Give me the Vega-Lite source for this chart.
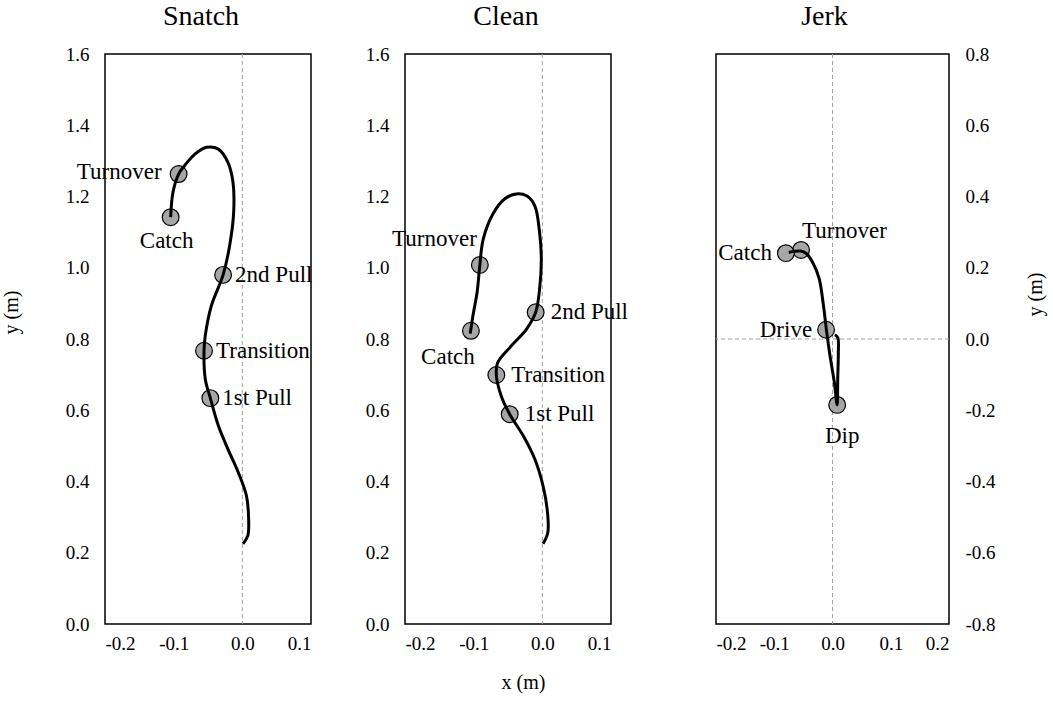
{
  "$schema": "https://vega.github.io/schema/vega-lite/v6.json",
  "background": "white",
  "padding": {"left": 0, "right": 5, "top": 2, "bottom": 5},
  "datasets": {
    "snatch_path": [
      {"i": 1, "x": 0.001, "y": 0.225}, {"i": 2, "x": 0.008, "y": 0.248}, {"i": 3, "x": 0.009, "y": 0.304},
      {"i": 4, "x": 0.006, "y": 0.36}, {"i": 5, "x": -0.006, "y": 0.426}, {"i": 6, "x": -0.021, "y": 0.491},
      {"i": 7, "x": -0.035, "y": 0.557}, {"i": 8, "x": -0.0466, "y": 0.634}, {"i": 9, "x": -0.054, "y": 0.688},
      {"i": 10, "x": -0.0558, "y": 0.767}, {"i": 11, "x": -0.054, "y": 0.809}, {"i": 12, "x": -0.045, "y": 0.894},
      {"i": 13, "x": -0.028, "y": 0.98}, {"i": 14, "x": -0.0185, "y": 1.062}, {"i": 15, "x": -0.0126, "y": 1.156},
      {"i": 16, "x": -0.0136, "y": 1.24}, {"i": 17, "x": -0.021, "y": 1.296}, {"i": 18, "x": -0.035, "y": 1.333},
      {"i": 19, "x": -0.052, "y": 1.338}, {"i": 20, "x": -0.069, "y": 1.319}, {"i": 21, "x": -0.084, "y": 1.287},
      {"i": 22, "x": -0.0928, "y": 1.263}, {"i": 23, "x": -0.101, "y": 1.212}, {"i": 24, "x": -0.1044, "y": 1.142}
    ],
    "snatch_events": [
      {"label": "1st Pull", "x": -0.0466, "y": 0.634},
      {"label": "Transition", "x": -0.0558, "y": 0.767},
      {"label": "2nd Pull", "x": -0.028, "y": 0.98},
      {"label": "Turnover", "x": -0.0928, "y": 1.263},
      {"label": "Catch", "x": -0.1044, "y": 1.142}
    ],
    "clean_path": [
      {"i": 1, "x": 0.001, "y": 0.225}, {"i": 2, "x": 0.008, "y": 0.257}, {"i": 3, "x": 0.007, "y": 0.323},
      {"i": 4, "x": 0.001, "y": 0.388}, {"i": 5, "x": -0.011, "y": 0.463}, {"i": 6, "x": -0.028, "y": 0.529},
      {"i": 7, "x": -0.0475, "y": 0.589}, {"i": 8, "x": -0.06, "y": 0.641}, {"i": 9, "x": -0.067, "y": 0.699},
      {"i": 10, "x": -0.065, "y": 0.734}, {"i": 11, "x": -0.045, "y": 0.781}, {"i": 12, "x": -0.023, "y": 0.828},
      {"i": 13, "x": -0.0097, "y": 0.875}, {"i": 14, "x": -0.004, "y": 0.94}, {"i": 15, "x": -0.0015, "y": 1.025},
      {"i": 16, "x": -0.004, "y": 1.099}, {"i": 17, "x": -0.011, "y": 1.174}, {"i": 18, "x": -0.023, "y": 1.202},
      {"i": 19, "x": -0.038, "y": 1.207}, {"i": 20, "x": -0.055, "y": 1.193}, {"i": 21, "x": -0.072, "y": 1.151},
      {"i": 22, "x": -0.086, "y": 1.081}, {"i": 23, "x": -0.091, "y": 1.008}, {"i": 24, "x": -0.095, "y": 0.931},
      {"i": 25, "x": -0.101, "y": 0.866}, {"i": 26, "x": -0.105, "y": 0.815}
    ],
    "clean_events": [
      {"label": "1st Pull", "x": -0.0475, "y": 0.589},
      {"label": "Transition", "x": -0.067, "y": 0.699},
      {"label": "2nd Pull", "x": -0.0097, "y": 0.875},
      {"label": "Turnover", "x": -0.091, "y": 1.008},
      {"label": "Catch", "x": -0.104, "y": 0.823}
    ],
    "jerk_path": [
      {"i": 1, "x": 0.004, "y": 0.012}, {"i": 2, "x": 0.009, "y": 0.004}, {"i": 3, "x": 0.01, "y": -0.04},
      {"i": 4, "x": 0.009, "y": -0.11}, {"i": 5, "x": 0.008, "y": -0.185}, {"i": 6, "x": 0.003, "y": -0.12},
      {"i": 7, "x": -0.004, "y": -0.05}, {"i": 8, "x": -0.01, "y": 0.02}, {"i": 9, "x": -0.016, "y": 0.1},
      {"i": 10, "x": -0.023, "y": 0.17}, {"i": 11, "x": -0.034, "y": 0.215}, {"i": 12, "x": -0.045, "y": 0.24},
      {"i": 13, "x": -0.055, "y": 0.247}, {"i": 14, "x": -0.065, "y": 0.246}, {"i": 15, "x": -0.075, "y": 0.243}
    ],
    "jerk_events": [
      {"label": "Dip", "x": 0.008, "y": -0.185},
      {"label": "Drive", "x": -0.011, "y": 0.026},
      {"label": "Turnover", "x": -0.054, "y": 0.25},
      {"label": "Catch", "x": -0.08, "y": 0.241}
    ]
  },
  "bounds": "flush",
  "spacing": 611,
  "hconcat": [
    {
      "bounds": "flush",
      "spacing": 94,
      "hconcat": [
        {
          "width": 206,
          "height": 570,
          "title": {"text": "Snatch", "dx": -7},
          "layer": [
            {
              "data": {"values": [{}]},
              "mark": {"type": "rule", "strokeDash": [4, 3], "color": "#a0a0a0", "strokeWidth": 1},
              "encoding": {"x": {"datum": 0, "type": "quantitative"}}
            },
            {
              "data": {"name": "snatch_events"},
              "mark": {"type": "circle", "fill": "#a6a6a6", "fillOpacity": 1, "stroke": "black", "strokeWidth": 1.2, "size": 280},
              "encoding": {
                "x": {"field": "x", "type": "quantitative",
                  "scale": {"domain": [-0.2, 0.1], "nice": false, "zero": false},
                  "axis": {"values": [-0.2, -0.1, 0, 0.1], "labelExpr": "datum.value < 0 ? '-' + format(-datum.value, '.1f') : format(datum.value, '.1f')", "labelPadding": 10, "title": null}},
                "y": {"field": "y", "type": "quantitative",
                  "scale": {"domain": [0, 1.6], "nice": false, "zero": false},
                  "axis": {"values": [0, 0.2, 0.4, 0.6, 0.8, 1.0, 1.2, 1.4, 1.6], "labelExpr": "format(datum.value, '.1f')", "labelPadding": 16, "title": "y (m)", "titlePadding": 44, "titleY": 258}}
              }
            },
            {
              "data": {"name": "snatch_path"},
              "mark": {"type": "line", "color": "black", "strokeWidth": 3, "interpolate": "catmull-rom"},
              "encoding": {
                "x": {"field": "x", "type": "quantitative"},
                "y": {"field": "y", "type": "quantitative"},
                "order": {"field": "i"}
              }
            },
            {
              "data": {"name": "snatch_events"},
              "transform": [{"filter": "indexof(['1st Pull', 'Transition', '2nd Pull'], datum.label) >= 0"}],
              "mark": {"type": "text", "align": "left", "dx": 12},
              "encoding": {"x": {"field": "x", "type": "quantitative"}, "y": {"field": "y", "type": "quantitative"}, "text": {"field": "label"}}
            },
            {
              "data": {"name": "snatch_events"},
              "transform": [{"filter": "datum.label == 'Turnover'"}],
              "mark": {"type": "text", "align": "right", "dx": -17, "dy": -2},
              "encoding": {"x": {"field": "x", "type": "quantitative"}, "y": {"field": "y", "type": "quantitative"}, "text": {"field": "label"}}
            },
            {
              "data": {"name": "snatch_events"},
              "transform": [{"filter": "datum.label == 'Catch'"}],
              "mark": {"type": "text", "align": "center", "dx": -4, "dy": 24},
              "encoding": {"x": {"field": "x", "type": "quantitative"}, "y": {"field": "y", "type": "quantitative"}, "text": {"field": "label"}}
            }
          ]
        },
        {
          "width": 206,
          "height": 570,
          "title": {"text": "Clean", "dx": -2},
          "layer": [
            {
              "data": {"values": [{}]},
              "mark": {"type": "rule", "strokeDash": [4, 3], "color": "#a0a0a0", "strokeWidth": 1},
              "encoding": {"x": {"datum": 0, "type": "quantitative"}}
            },
            {
              "data": {"name": "clean_events"},
              "mark": {"type": "circle", "fill": "#a6a6a6", "fillOpacity": 1, "stroke": "black", "strokeWidth": 1.2, "size": 280},
              "encoding": {
                "x": {"field": "x", "type": "quantitative",
                  "scale": {"domain": [-0.2, 0.1], "nice": false, "zero": false},
                  "axis": {"values": [-0.2, -0.1, 0, 0.1], "labelExpr": "datum.value < 0 ? '-' + format(-datum.value, '.1f') : format(datum.value, '.1f')", "labelPadding": 10, "title": "x (m)", "titleX": 118, "titleY": 48}},
                "y": {"field": "y", "type": "quantitative",
                  "scale": {"domain": [0, 1.6], "nice": false, "zero": false},
                  "axis": {"values": [0, 0.2, 0.4, 0.6, 0.8, 1.0, 1.2, 1.4, 1.6], "labelExpr": "format(datum.value, '.1f')", "labelPadding": 16, "title": null}}
              }
            },
            {
              "data": {"name": "clean_path"},
              "mark": {"type": "line", "color": "black", "strokeWidth": 3, "interpolate": "catmull-rom"},
              "encoding": {
                "x": {"field": "x", "type": "quantitative"},
                "y": {"field": "y", "type": "quantitative"},
                "order": {"field": "i"}
              }
            },
            {
              "data": {"name": "clean_events"},
              "transform": [{"filter": "indexof(['1st Pull', 'Transition', '2nd Pull'], datum.label) >= 0"}],
              "mark": {"type": "text", "align": "left", "dx": 15},
              "encoding": {"x": {"field": "x", "type": "quantitative"}, "y": {"field": "y", "type": "quantitative"}, "text": {"field": "label"}}
            },
            {
              "data": {"name": "clean_events"},
              "transform": [{"filter": "datum.label == 'Turnover'"}],
              "mark": {"type": "text", "align": "right", "dx": -3, "dy": -26},
              "encoding": {"x": {"field": "x", "type": "quantitative"}, "y": {"field": "y", "type": "quantitative"}, "text": {"field": "label"}}
            },
            {
              "data": {"name": "clean_events"},
              "transform": [{"filter": "datum.label == 'Catch'"}],
              "mark": {"type": "text", "align": "center", "dx": -23, "dy": 26},
              "encoding": {"x": {"field": "x", "type": "quantitative"}, "y": {"field": "y", "type": "quantitative"}, "text": {"field": "label"}}
            }
          ]
        }
      ]
    },
    {
      "width": 233,
      "height": 570,
      "title": {"text": "Jerk", "dx": -8},
      "layer": [
        {
          "data": {"values": [{}]},
          "mark": {"type": "rule", "strokeDash": [4, 3], "color": "#a0a0a0", "strokeWidth": 1},
          "encoding": {"x": {"datum": 0, "type": "quantitative"}}
        },
        {
          "data": {"values": [{}]},
          "mark": {"type": "rule", "strokeDash": [4, 3], "color": "#a0a0a0", "strokeWidth": 1},
          "encoding": {"y": {"datum": 0, "type": "quantitative"}}
        },
        {
          "data": {"name": "jerk_events"},
          "mark": {"type": "circle", "fill": "#a6a6a6", "fillOpacity": 1, "stroke": "black", "strokeWidth": 1.2, "size": 280},
          "encoding": {
            "x": {"field": "x", "type": "quantitative",
              "scale": {"domain": [-0.2, 0.2], "nice": false, "zero": false},
              "axis": {"values": [-0.2, -0.1, 0, 0.1, 0.2], "labelExpr": "datum.value < 0 ? '-' + format(-datum.value, '.1f') : format(datum.value, '.1f')", "labelPadding": 10, "title": null}},
            "y": {"field": "y", "type": "quantitative",
              "scale": {"domain": [-0.8, 0.8], "nice": false, "zero": false},
              "axis": {"orient": "right", "values": [-0.8, -0.6, -0.4, -0.2, 0, 0.2, 0.4, 0.6, 0.8], "labelExpr": "datum.value < 0 ? '-' + format(-datum.value, '.1f') : format(datum.value, '.1f')", "labelPadding": 16, "title": "y (m)", "titleAngle": 270, "titlePadding": 50, "titleY": 240}}
          }
        },
        {
          "data": {"name": "jerk_path"},
          "mark": {"type": "line", "color": "black", "strokeWidth": 3, "interpolate": "catmull-rom"},
          "encoding": {
            "x": {"field": "x", "type": "quantitative"},
            "y": {"field": "y", "type": "quantitative"},
            "order": {"field": "i"}
          }
        },
        {
          "data": {"name": "jerk_events"},
          "transform": [{"filter": "datum.label == 'Turnover'"}],
          "mark": {"type": "text", "align": "left", "dx": 1, "dy": -19},
          "encoding": {"x": {"field": "x", "type": "quantitative"}, "y": {"field": "y", "type": "quantitative"}, "text": {"field": "label"}}
        },
        {
          "data": {"name": "jerk_events"},
          "transform": [{"filter": "datum.label == 'Catch' || datum.label == 'Drive'"}],
          "mark": {"type": "text", "align": "right", "dx": -14},
          "encoding": {"x": {"field": "x", "type": "quantitative"}, "y": {"field": "y", "type": "quantitative"}, "text": {"field": "label"}}
        },
        {
          "data": {"name": "jerk_events"},
          "transform": [{"filter": "datum.label == 'Dip'"}],
          "mark": {"type": "text", "align": "center", "dx": 5, "dy": 31},
          "encoding": {"x": {"field": "x", "type": "quantitative"}, "y": {"field": "y", "type": "quantitative"}, "text": {"field": "label"}}
        }
      ]
    }
  ],
  "config": {
    "font": "Liberation Serif",
    "view": {"stroke": "black", "strokeWidth": 1.5},
    "axis": {"domain": false, "ticks": false, "grid": false, "labelFont": "Liberation Serif", "labelFontSize": 19, "labelColor": "black", "titleFont": "Liberation Serif", "titleFontSize": 20, "titleFontWeight": "normal", "titleColor": "black"},
    "title": {"font": "Liberation Serif", "fontSize": 28, "fontWeight": "normal", "color": "black", "offset": 14},
    "text": {"font": "Liberation Serif", "fontSize": 23, "color": "black", "baseline": "middle"}
  }
}
